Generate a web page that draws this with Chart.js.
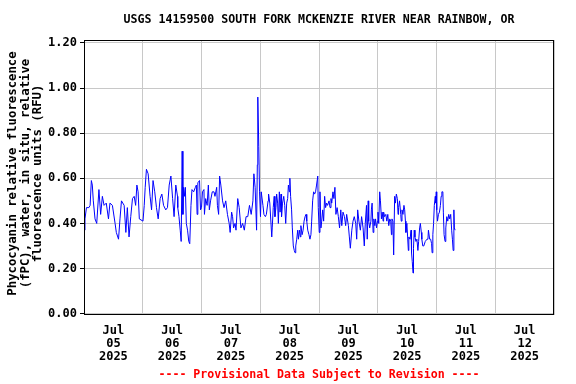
<!DOCTYPE html>
<html><head><meta charset="utf-8">
<script src="https://cdn.jsdelivr.net/npm/chart.js@4/dist/chart.umd.min.js"></script>
<style>html,body{margin:0;padding:0;background:#fff;}canvas{display:block;}</style>
</head><body>
<canvas id="c" width="576" height="384"></canvas>
<script>
const titleText = 'USGS 14159500 SOUTH FORK MCKENZIE RIVER NEAR RAINBOW, OR';
const yTitleLines = ['Phycocyanin relative fluorescence', '(fPC), water, in situ, relative', 'fluorescence units (RFU)'];
const footerText = '---- Provisional Data Subject to Revision ----';
const monthLabel = 'Jul';
const yearLabel = '2025';
const dayLabels = ['05', '06', '07', '08', '09', '10', '11', '12'];
const yTickValues = [0.00, 0.20, 0.40, 0.60, 0.80, 1.00, 1.20];

// sample times, in hours after Jul 05 2025 00:00
const sampleHours = [
  0.0,0.4,1.0,2.0,2.5,3.0,3.4,3.8,4.5,5.2,6.1,6.8,7.5,8.2,9.1,10.0,10.6,11.6,12.7,13.2,
  14.1,14.7,15.3,16.4,17.1,17.7,18.4,19.1,19.8,20.5,21.1,21.6,22.1,22.6,24.1,24.6,25.0,25.5,26.2,27.0,
  27.6,28.2,28.9,29.6,30.3,31.1,31.8,32.5,33.4,34.1,34.8,35.5,36.2,36.8,37.5,38.2,
  38.3,38.8,39.3,39.7,40.1,40.4,40.7,41.0,41.4,41.8,42.3,42.8,43.2,43.7,44.1,44.8,45.5,45.9,46.2,46.5,
  47.2,47.6,48.0,48.4,49.0,49.2,49.7,50.3,50.8,51.2,51.7,52.4,53.1,53.5,54.2,54.5,55.0,55.4,55.9,56.6,
  57.2,57.9,58.6,59.3,59.7,60.3,60.7,61.1,61.7,62.1,62.8,63.4,64.1,64.8,65.5,66.2,66.9,67.6,68.3,69.0,
  69.4,69.9,70.5,70.8,71.0,71.4,71.7,72.1,72.4,73.1,73.5,74.1,74.5,75.2,75.4,75.9,
  76.7,76.9,77.3,77.7,78.0,78.4,78.7,79.1,79.4,79.8,80.1,80.5,80.7,81.1,81.6,82.0,82.4,82.8,83.2,83.5,
  83.9,84.1,84.4,84.8,85.1,85.5,85.9,86.2,86.5,86.9,87.3,87.6,88.0,88.4,88.6,89.1,89.5,89.9,90.3,90.7,
  91.0,91.4,91.9,92.3,92.7,93.0,93.4,93.8,94.2,94.6,95.0,95.5,95.7,96.1,96.4,96.8,97.1,97.5,97.9,98.3,
  98.7,99.1,99.5,100.1,100.5,100.9,101.2,101.7,102.1,102.5,102.9,103.4,103.9,104.4,104.9,105.3,105.8,106.4,106.9,107.3,
  108.0,108.4,108.8,109.4,109.9,110.4,111.0,111.4,111.8,112.3,112.9,113.4,114.0,114.5,114.9,
  115.4,115.7,116.1,116.3,116.7,117.2,117.4,117.7,118.1,118.4,118.8,119.1,119.5,119.9,120.1,120.4,120.8,121.1,121.5,121.8,
  122.2,122.4,122.8,123.3,123.7,124.1,124.5,124.9,125.3,125.6,125.8,126.2,126.5,126.9,127.2,127.6,128.0,128.3,128.5,128.9,
  129.4,129.6,129.9,130.3,130.7,131.0,131.3,131.5,131.9,132.2,132.5,132.7,133.2,133.6,133.8,134.1,134.4,134.6,134.9,135.2,
  135.6,136.0,136.4,136.7,137.1,137.4,137.8,138.0,138.4,138.8,139.4,140.1,140.5,140.7,141.2,141.6,142.0,142.2,142.5,142.8,
  143.1,143.5,143.7,143.9,144.1,144.4,144.8,145.2,145.6,145.9,146.2,146.6,146.8,147.1,147.5,147.8,148.2,148.6,149.0,149.4,
  149.8,150.2,150.5,150.8,151.1,151.3,151.6
];
// phycocyanin readings (RFU) at those times
const sampleValues = [
  0.37,0.42,0.47,0.47,0.48,0.59,0.57,0.50,0.42,0.40,0.55,0.44,0.52,0.48,0.49,0.42,0.49,0.48,0.40,0.36,
  0.33,0.42,0.50,0.48,0.36,0.47,0.34,0.43,0.51,0.52,0.48,0.57,0.54,0.42,0.41,0.48,0.56,0.64,0.62,0.52,
  0.46,0.59,0.54,0.47,0.42,0.51,0.53,0.48,0.46,0.47,0.57,0.61,0.51,0.43,0.57,0.52,
  0.47,0.43,0.37,0.32,0.72,0.44,0.56,0.52,0.56,0.40,0.37,0.32,0.31,0.48,0.55,0.54,0.56,0.57,0.44,0.58,
  0.59,0.46,0.47,0.54,0.55,0.44,0.51,0.48,0.57,0.46,0.50,0.54,0.54,0.52,0.56,0.48,0.44,0.61,0.57,0.50,
  0.47,0.50,0.44,0.40,0.36,0.45,0.43,0.38,0.40,0.37,0.51,0.47,0.38,0.40,0.37,0.43,0.43,0.48,0.44,0.50,
  0.62,0.56,0.37,0.66,0.96,0.74,0.54,0.43,0.54,0.48,0.44,0.43,0.44,0.50,0.53,0.49,
  0.34,0.38,0.47,0.52,0.43,0.47,0.53,0.49,0.40,0.54,0.45,0.53,0.43,0.49,0.52,0.48,0.40,0.49,0.51,0.57,
  0.54,0.60,0.52,0.46,0.38,0.30,0.28,0.27,0.30,0.33,0.37,0.33,0.37,0.34,0.39,0.35,0.37,0.41,0.43,0.44,
  0.41,0.37,0.35,0.33,0.35,0.41,0.50,0.54,0.53,0.54,0.57,0.61,0.47,0.36,0.54,0.38,0.41,0.46,0.41,0.52,
  0.47,0.49,0.48,0.50,0.47,0.51,0.49,0.54,0.51,0.56,0.44,0.47,0.43,0.38,0.46,0.39,0.45,0.43,0.39,0.44,
  0.39,0.34,0.29,0.37,0.41,0.43,0.40,0.33,0.46,0.41,0.37,0.43,0.38,0.30,0.40,
  0.48,0.33,0.50,0.41,0.38,0.41,0.46,0.49,0.36,0.42,0.39,0.42,0.38,0.41,0.45,0.40,0.54,0.50,0.42,0.45,
  0.41,0.45,0.43,0.44,0.41,0.44,0.39,0.42,0.41,0.35,0.42,0.41,0.26,0.52,0.49,0.53,0.51,0.44,0.47,0.50,
  0.44,0.41,0.46,0.44,0.48,0.46,0.41,0.36,0.40,0.34,0.28,0.34,0.33,0.37,0.27,0.23,0.18,0.29,0.37,0.34,
  0.32,0.33,0.28,0.32,0.38,0.40,0.36,0.33,0.30,0.30,0.32,0.33,0.33,0.37,0.33,0.33,0.31,0.27,0.35,0.40,
  0.48,0.52,0.49,0.54,0.46,0.41,0.44,0.45,0.48,0.52,0.54,0.54,0.45,0.35,0.32,0.38,0.43,0.41,0.44,0.42,
  0.44,0.37,0.33,0.28,0.46,0.38,0.37
];

const FONT = '"DejaVu Sans Mono", "Liberation Mono", monospace';
Chart.defaults.font.family = FONT;
Chart.defaults.font.size = 12;
Chart.defaults.font.weight = 'bold';
Chart.defaults.color = '#000';

const points = sampleHours.map((h, i) => ({ x: h, y: sampleValues[i] }));

const decor = {
  id: 'decor',
  afterDraw(chart) {
    const { ctx, chartArea: a } = chart;
    ctx.save();
    ctx.strokeStyle = '#000';
    ctx.lineWidth = 1;
    ctx.strokeRect(Math.round(a.left) + 0.5, Math.round(a.top) + 0.5,
      Math.round(a.right - a.left) - 1, Math.round(a.bottom - a.top) - 1);
    ctx.textAlign = 'center';
    ctx.textBaseline = 'middle';
    const cx = (a.left + a.right) / 2;
    ctx.font = 'bold 11.6px ' + FONT;
    ctx.fillStyle = '#000';
    ctx.fillText(titleText, cx, 20);
    ctx.fillStyle = '#ff0000';
    ctx.fillText(footerText, cx, 375);
    ctx.fillStyle = '#000';
    ctx.font = 'bold 12.3px ' + FONT;
    const xs = [13, 26, 38];
    yTitleLines.forEach((t, i) => {
      ctx.save();
      ctx.translate(xs[i], (a.top + a.bottom) / 2 - 4);
      ctx.rotate(-Math.PI / 2);
      ctx.fillText(t, 0, 0);
      ctx.restore();
    });
    ctx.restore();
  }
};

new Chart(document.getElementById('c'), {
  type: 'line',
  data: {
    datasets: [{
      data: points,
      borderColor: '#0000ff',
      borderWidth: 1,
      pointRadius: 0,
      tension: 0,
      fill: false
    }]
  },
  options: {
    responsive: false,
    animation: false,
    devicePixelRatio: 1,
    layout: { padding: { top: 40, right: 22, left: 0, bottom: 0 } },
    plugins: { legend: { display: false }, tooltip: { enabled: false }, title: { display: false } },
    scales: {
      x: {
        type: 'linear',
        min: 0,
        max: 192,
        afterFit(s) { s.height = 69; },
        afterBuildTicks(s) {
          const t = [];
          for (let v = 0; v <= 192; v += 12) t.push({ value: v });
          s.ticks = t;
        },
        ticks: {
          autoSkip: false,
          maxRotation: 0,
          minRotation: 0,
          padding: 9,
          font: { size: 12, weight: 'bold', lineHeight: 1.08 },
          callback(v) {
            if (v % 24 === 12) return [monthLabel, dayLabels[(v - 12) / 24], yearLabel];
            return '';
          }
        },
        grid: {
          drawTicks: false,
          color(c) { return (c.tick && c.tick.value % 24 === 0) ? '#c8c8c8' : 'rgba(0,0,0,0)'; }
        },
        border: { display: false }
      },
      y: {
        min: -0.006,
        max: 1.213,
        afterFit(s) { s.width = 84; },
        afterBuildTicks(s) { s.ticks = yTickValues.map(v => ({ value: v })); },
        ticks: {
          padding: 3,
          callback(v) { return v.toFixed(2); }
        },
        grid: { color: '#c8c8c8', tickLength: 4, tickColor: '#000' },
        border: { display: false }
      }
    }
  },
  plugins: [decor]
});
</script>
</body></html>
